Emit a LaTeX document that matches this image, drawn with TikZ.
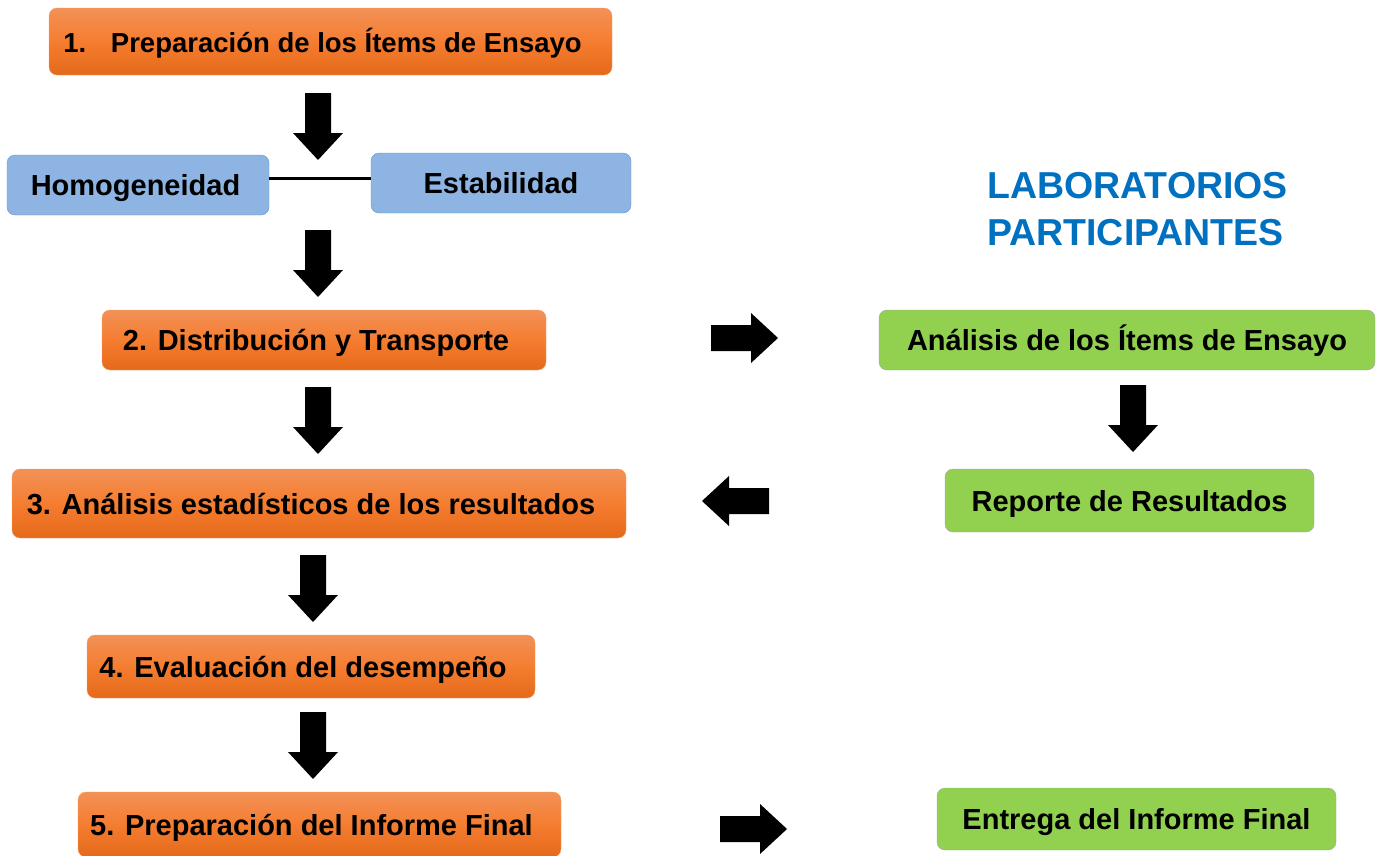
\documentclass[tikz,border=0pt]{standalone}
\usepackage{fontspec}
\setmainfont{Liberation Sans}
\usepackage{xcolor}
\definecolor{ORtop}{HTML}{F29157}
\definecolor{ORmid}{HTML}{F57D30}
\definecolor{ORbot}{HTML}{E5691A}
\definecolor{ORline}{HTML}{F4A26E}
\definecolor{HMcolor}{HTML}{8DB4E2}
\definecolor{HMline}{HTML}{5B9BD5}
\definecolor{LBcolor}{HTML}{92D050}
\definecolor{LBline}{HTML}{A5A5A5}
\definecolor{TTcolor}{HTML}{0070C0}
\usepackage{tikz}

\begin{document}
\begin{tikzpicture}[x=1pt, y=-1pt]
    \tikzset{%
        box/.style={rounded corners=8pt, inner sep=0pt, text height=21pt, text depth=0pt,
                font=\fontsize{29pt}{32pt}\selectfont\bfseries},
        stage/.style={box, draw=ORline, top color=ORtop, bottom color=ORbot, middle color=ORmid,
                execute at end node={\hspace{16pt}}},
        check/.style={box, draw=HMline, fill=HMcolor},
        lab/.style={box, draw=LBline, fill=LBcolor},
        pics/fatarrow/.style={code={%
                        \fill [black] (0, -13) -- (40, -13) -- (40, -25) -- (67, 0) -- (40, 25) -- (40, 13) -- (0, 13) -- cycle;
                    }
            }
    }

    \useasboundingbox (0, 0) rectangle (1381, 855);

    % organizer
    \node (prep) at (330.5, 41.5) [stage, minimum width=563pt, minimum height=67pt, font=\fontsize{27.5pt}{30pt}\selectfont\bfseries] {1.\hspace{0.9em}Preparación de los Ítems de Ensayo};
    \node (homog) at (138, 185) [check, minimum width=262pt, minimum height=60pt] {\hspace{-5pt}Homogeneidad};
    \node (estab) at (501, 183) [check, minimum width=260pt, minimum height=60pt] {Estabilidad};
    \node (distr) at (324, 340) [stage, minimum width=444pt, minimum height=60pt] {2. Distribución y Transporte};
    \node (stats) at (319, 503.5) [stage, minimum width=614pt, minimum height=69pt] {3. Análisis estadísticos de los resultados};
    \node (evalu) at (311, 666.5) [stage, minimum width=448pt, minimum height=63pt] {4. Evaluación del desempeño};
    \node (final) at (319.5, 824.5) [stage, minimum width=483pt, minimum height=65pt] {5. Preparación del Informe Final};

    \draw [line width=3pt] ([yshift=7pt]homog.east) -- ([yshift=7pt]homog.east -| estab.west);

    % participants
    \node (title) at (987, 172) [anchor=north west, inner sep=0pt, align=left, text=TTcolor, font=\fontsize{37.5pt}{47pt}\selectfont\bfseries] {LABORATORIOS\\PARTICIPANTES};
    \node (anali) at (1127, 340) [lab, minimum width=496pt, minimum height=60pt] {Análisis de los Ítems de Ensayo};
    \node (repor) at (1129.5, 500.5) [lab, minimum width=369pt, minimum height=63pt] {Reporte de Resultados};
    \node (entre) at (1136.5, 819) [lab, minimum width=399pt, minimum height=62pt] {Entrega del Informe Final};

    % arrows
    \foreach \ax/\ay in {318/93, 318/230, 318/387, 313/555, 313/712, 1133/385} {%
            \pic [rotate=-90] at (\ax, \ay) {fatarrow};
        };
    \pic at (711, 338) {fatarrow};
    \pic [rotate=180] at (769, 501) {fatarrow};
    \pic at (720, 829) {fatarrow};
\end{tikzpicture}
\end{document}
